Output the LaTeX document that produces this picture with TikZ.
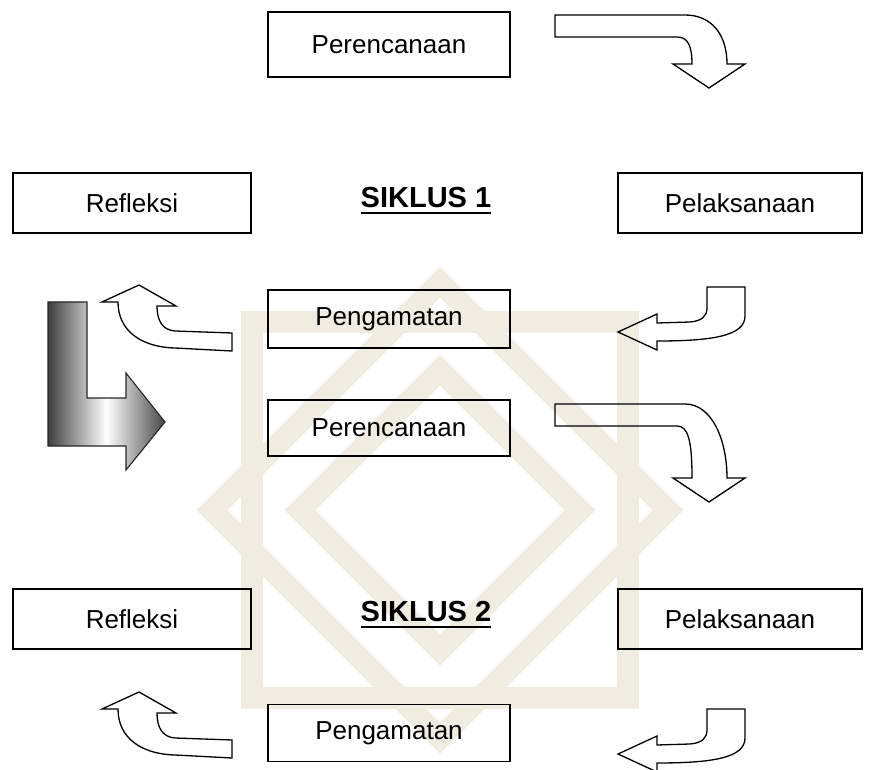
\documentclass[tikz,border=0pt]{standalone}
\usepackage{fontspec}
\setmainfont{Liberation Sans}
\usetikzlibrary{positioning}
\definecolor{wmark}{RGB}{241,236,226}
\tikzset{
  box/.style={draw,rectangle,line width=1.3pt,minimum width=242pt,minimum height=60pt,font=\fontsize{26}{30}\selectfont},
  cyc/.style={inner sep=0pt,font=\bfseries\fontsize{29}{32}\selectfont},
  blockarrow/.style={draw,line width=1.3pt,line join=miter},
  band/.style={draw=wmark,line width=22pt}
}

\begin{document}
\begin{tikzpicture}[x=1pt,y=-1pt]
  \useasboundingbox (0,0) rectangle (876,770);
  % watermark in the background
  \draw[band] (440,282) -- (668,510) -- (440,738) -- (212,510) -- cycle;
  \draw[band] (252,322) rectangle (628,698);
  \draw[band] (440,370) -- (580,510) -- (440,650) -- (300,510) -- cycle;

  % boxes of the two cycles
  \node[box,minimum height=65pt] (per1) at (389,44.5) {Perencanaan};
  \node[box,minimum width=238pt] (ref1) at (132,203) {Refleksi};
  \node[box,minimum width=244pt] (pel1) at (740,203) {Pelaksanaan};
  \node[cyc] (sik1) at (426,198) {SIKLUS 1};
  \node[box,minimum height=58pt] (pen1) at (389,319) {Pengamatan};
  \node[box,minimum height=56pt] (per2) at (389,428) {Perencanaan};
  \node[box,minimum width=238pt] (ref2) at (132,619) {Refleksi};
  \node[box,minimum width=244pt] (pel2) at (740,619) {Pelaksanaan};
  \node[cyc] (sik2) at (426,612) {SIKLUS 2};
  \node[box,minimum height=57pt] (pen2) at (389,733) {Pengamatan};
  \draw[line width=2.8pt] ([yshift=-5pt]sik1.base west) -- ([yshift=-5pt]sik1.base east);
  \draw[line width=2.8pt] ([yshift=-5pt]sik2.base west) -- ([yshift=-5pt]sik2.base east);

  % curved arrows, perencanaan -> pelaksanaan
  \draw[blockarrow] (555,15) -- (685,15) .. controls (712,15) and (727,35) .. (727,64)
    -- (745,64) -- (709,88) -- (673,64) -- (692,64)
    .. controls (692,46) and (688,37) .. (677,37) -- (555,37) -- cycle;
  \draw[blockarrow] (555,404) -- (685,404) .. controls (712,404) and (727,440) .. (727,478)
    -- (745,478) -- (709,502) -- (673,478) -- (692,478)
    .. controls (692,440) and (688,426) .. (677,426) -- (555,426) -- cycle;

  % pelaksanaan -> pengamatan
  \draw[blockarrow] (707,287) -- (745,287) -- (745,316) .. controls (745,336) and (712,341) .. (657,341)
    -- (657,350) -- (618,332) -- (657,314) -- (657,323) -- (690,322)
    .. controls (702,321) and (707,316) .. (707,308) -- cycle;
  \draw[blockarrow] (707,709) -- (745,709) -- (745,738) .. controls (745,758) and (712,763) .. (657,763)
    -- (657,772) -- (618,754) -- (657,736) -- (657,745) -- (690,744)
    .. controls (702,743) and (707,738) .. (707,730) -- cycle;

  % pengamatan -> refleksi
  \draw[blockarrow] (232,333) -- (175,331) .. controls (162,330) and (157,320) .. (157,306)
    -- (176,306) -- (139,285) -- (102,302) -- (118,302)
    .. controls (118,330) and (140,347) .. (175,348) -- (232,351) -- cycle;
  \draw[blockarrow] (232,740) -- (175,738) .. controls (162,737) and (157,727) .. (157,713)
    -- (176,713) -- (139,692) -- (102,709) -- (118,709)
    .. controls (118,737) and (140,754) .. (175,755) -- (232,758) -- cycle;

  % shaded arrow from cycle 1 to cycle 2
  \draw[line width=1.1pt,draw=black!85,left color=black!75,right color=black!72,middle color=white]
    (48,302) -- (87,302) -- (87,398) -- (126,398) -- (126,373) -- (165,422)
    -- (126,470) -- (126,446) -- (48,446) -- cycle;
\end{tikzpicture}
\end{document}
